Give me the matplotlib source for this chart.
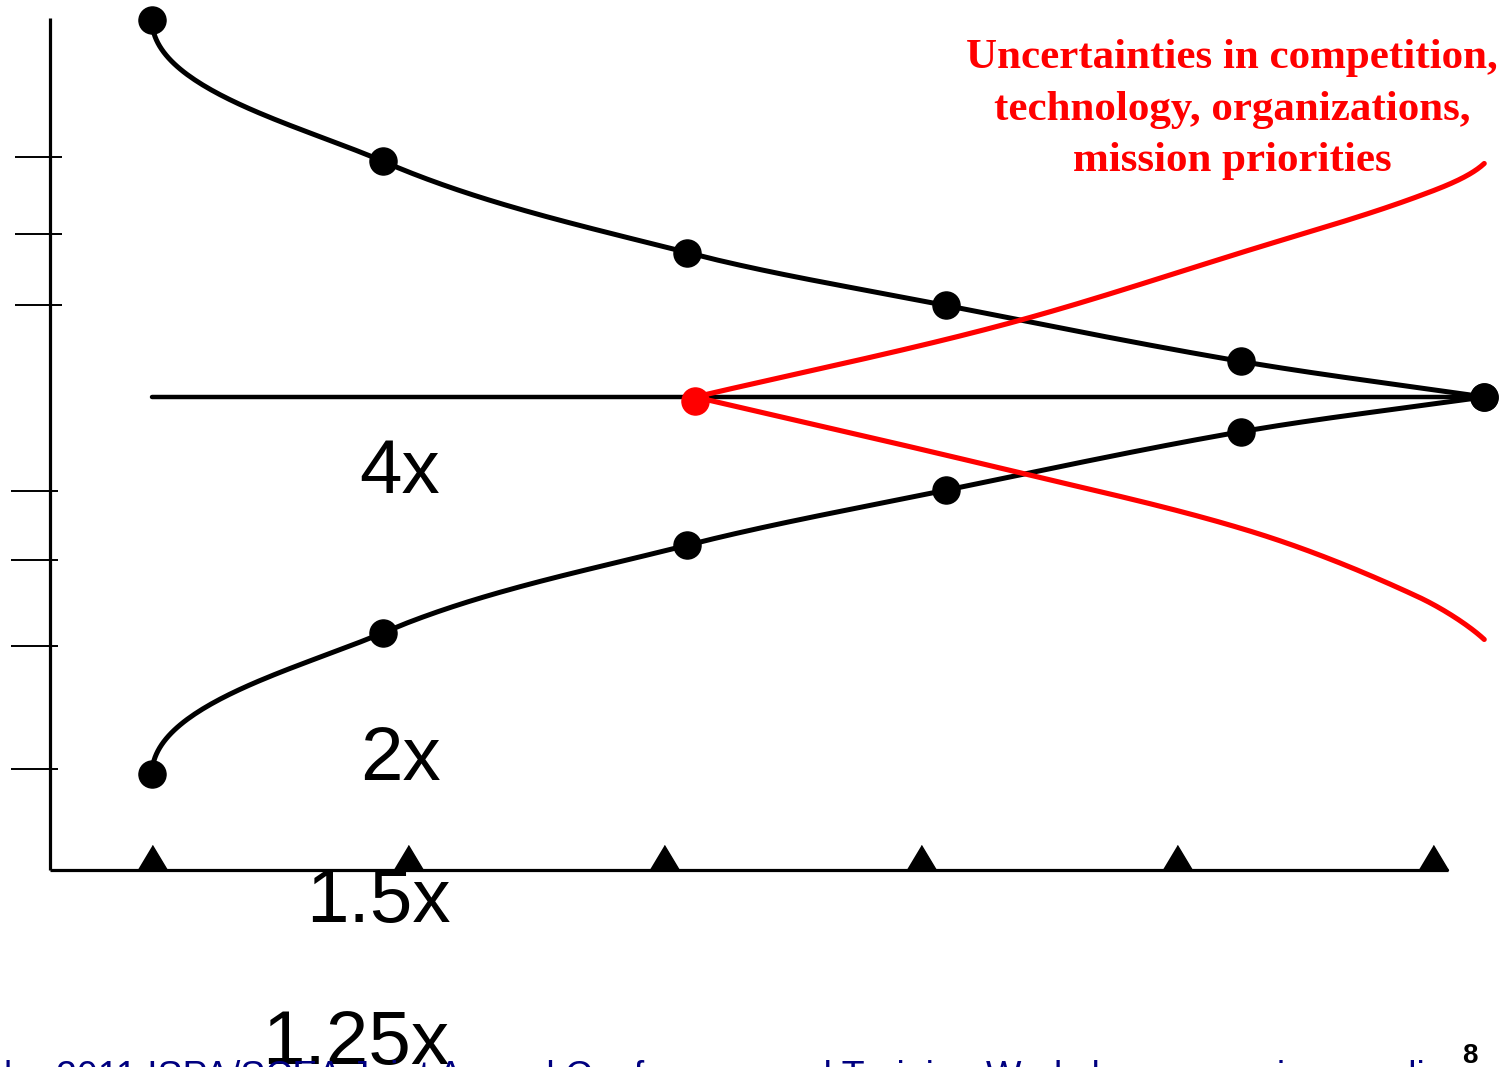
import numpy as np
import matplotlib.pyplot as plt

# milestones along the project timeline (phase index)
milestones = [0, 1, 2, 3, 4, 5]

# cone of uncertainty: estimate range as a multiple of the actual
phase_x = [0, 0.90, 2.09, 3.10, 4.25, 5.20]
upper = [4.0, 2.38, 1.70, 1.40, 1.14, 1.0]
lower = [0.25, 0.42, 0.58, 0.71, 0.88, 1.0]

# widening cone once outside uncertainties kick in
red_x = [2.12, 3.31, 4.29, 4.94, 5.20]
red_upper = [1.0, 1.30, 1.72, 2.09, 2.36]
red_lower = [1.0, 0.77, 0.61, 0.48, 0.41]
red_start = (2.12, 0.985)

upper_ticks = [2.42, 1.82, 1.40]
lower_ticks = [0.707, 0.549, 0.40, 0.255]

multiplier_labels = ["4x", "2x", "1.5x", "1.25x"]
note_lines = ["Uncertainties in competition,",
              "technology, organizations,",
              "mission priorities"]
footer = ("Presented at the 2011 ISPA/SCEA Joint Annual Conference and "
          "Training Workshop - www.iceaaonline.com")

W, H = 1506, 1067
XS, YS = 256.2, 188.5   # px per phase / px per doubling


def smooth(xs, ys, m0=None, m1=None, n=60):
    # chord-length cubic hermite through the points, in screen-like units
    P = np.column_stack([np.asarray(xs) * XS, np.log2(ys) * YS])
    d = np.hypot(*(P[1:] - P[:-1]).T)
    m = np.zeros_like(P)
    m[1:-1] = (P[2:] - P[:-2]) / (d[:-1] + d[1:])[:, None]
    m[0] = (P[1] - P[0]) / d[0]
    m[-1] = (P[-1] - P[-2]) / d[-1]
    if m0 is not None:
        m[0] = np.asarray(m0) / d[0]
    if m1 is not None:
        m[-1] = np.asarray(m1) / d[-1]
    s = np.linspace(0, 1, n)[:, None]
    h00 = 2 * s**3 - 3 * s**2 + 1
    h10 = s**3 - 2 * s**2 + s
    h01 = -2 * s**3 + 3 * s**2
    h11 = s**3 - s**2
    pts = []
    for i in range(len(P) - 1):
        seg = (h00 * P[i] + h10 * m[i] * d[i]
               + h01 * P[i + 1] + h11 * m[i + 1] * d[i])
        pts.append(seg if i == 0 else seg[1:])
    pts = np.vstack(pts)
    return pts[:, 0] / XS, 2 ** (pts[:, 1] / YS)


def fx(px):
    return px / W


def fy(py):
    return 1 - py / H


fig = plt.figure(figsize=(W / 100, H / 100), dpi=100)
ax = fig.add_axes([0, 0, 1, 1])
ax.set_yscale("log", base=2)
ax.set_xlim(-152 / XS, (W - 152) / XS)
ax.set_ylim(2 ** ((397 - H) / YS), 2 ** (397 / YS))
ax.axis("off")

# axes drawn by hand
y_floor = 2 ** ((397 - 870) / YS)
y_top = 2 ** ((397 - 18) / YS)
x_left = -102 / XS
ax.plot([x_left, x_left], [y_floor, y_top], color="black", lw=2.3, solid_capstyle="butt")
ax.plot([x_left, (1448 - 152) / XS], [y_floor, y_floor], color="black", lw=2.3, solid_capstyle="butt")
ax.hlines(upper_ticks, -137 / XS, -90 / XS, color="black", lw=1.4)
ax.hlines(lower_ticks, -141 / XS, -94 / XS, color="black", lw=1.4)

# milestone triangles sitting on the time axis
tri = [(-0.6, 0), (0.6, 0), (0, 1)]
ax.plot(milestones, [y_floor] * len(milestones), linestyle="none",
        marker=tri, markersize=36, color="black")

# centre line (actual)
ax.plot([phase_x[0], phase_x[-1]], [1.0, 1.0], color="black", lw=3.2, solid_capstyle="round")

# black cone
ux, uy = smooth(phase_x, upper, m0=(0, -205))
lx, ly = smooth(phase_x, lower, m0=(0, 205))
ax.plot(ux, uy, color="black", lw=3.6, solid_capstyle="round")
ax.plot(lx, ly, color="black", lw=3.6, solid_capstyle="round")
ax.plot(phase_x, upper, "o", color="black", markersize=19.5)
ax.plot(phase_x, lower, "o", color="black", markersize=19.5)

# red cone
rux, ruy = smooth(red_x, red_upper, m1=(45, 42))
rlx, rly = smooth(red_x, red_lower, m1=(45, -42))
ax.plot(rux, ruy, color="#ff0000", lw=3.7, solid_capstyle="round")
ax.plot(rlx, rly, color="#ff0000", lw=3.7, solid_capstyle="round")
ax.plot([red_start[0]], [red_start[1]], "o", color="#ff0000", markersize=19.5)

# multiplier captions
for lab, (cx, by) in zip(multiplier_labels, [(400, 493), (400, 780), (378, 922), (356, 1064)]):
    fig.text(fx(cx), fy(by), lab, ha="center", va="baseline",
             fontsize=55, family="Liberation Sans", color="black")

for line, by in zip(note_lines, [68, 120, 171]):
    fig.text(fx(1232), fy(by), line, ha="center", va="baseline",
             fontsize=31, family="Liberation Serif", fontweight="bold", color="#ff0000")

fig.text(fx(-230), fy(1088), footer, ha="left", va="baseline",
         fontsize=27, family="Liberation Sans", color="#000080")
fig.text(fx(1470), fy(1063), "8", ha="center", va="baseline",
         fontsize=20, family="Liberation Sans", fontweight="bold", color="black")

fig.savefig("out.png", dpi=100, facecolor="white")
